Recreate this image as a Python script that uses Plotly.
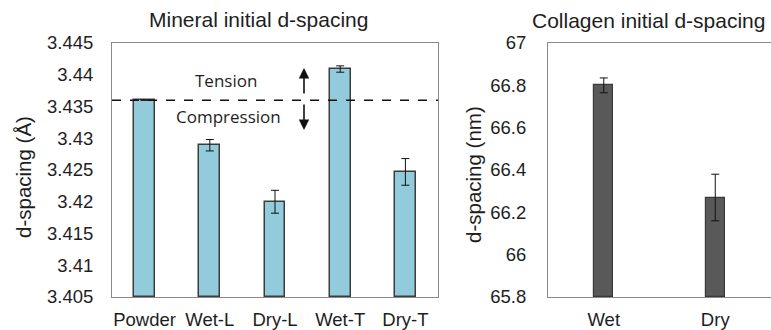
import plotly.graph_objects as go

# Mineral (apatite) d-spacing, Å
mineral_samples = ["Powder", "Wet-L", "Dry-L", "Wet-T", "Dry-T"]
mineral_dspacing = [3.4360, 3.4289, 3.4200, 3.4409, 3.4247]
mineral_err = [0.0000, 0.0009, 0.0018, 0.0005, 0.0021]
mineral_ticks = [3.405, 3.41, 3.415, 3.42, 3.425, 3.43, 3.435, 3.44, 3.445]
powder_reference = 3.436

# Collagen D-period, nm
collagen_samples = ["Wet", "Dry"]
collagen_dspacing = [66.80, 66.27]
collagen_err = [0.035, 0.11]
collagen_ticks = [65.8, 66.0, 66.2, 66.4, 66.6, 66.8, 67.0]

W, H = 771, 330
FONT = "Liberation Sans, Arial, sans-serif"
TEXT = "#1e1e1e"
FRAME = "#8a8a8a"

fig = go.Figure()

fig.add_trace(go.Bar(
    x=mineral_samples, y=[v - mineral_ticks[0] for v in mineral_dspacing],
    base=mineral_ticks[0], width=0.32,
    marker=dict(color="#92CBDC", line=dict(color="#3c3c3c", width=1.5)),
    error_y=dict(type="data", array=mineral_err, color="#111", thickness=1, width=4),
    xaxis="x", yaxis="y", showlegend=False,
))

fig.add_trace(go.Bar(
    x=collagen_samples, y=[v - collagen_ticks[0] for v in collagen_dspacing],
    base=collagen_ticks[0], width=0.17,
    marker=dict(color="#595959", line=dict(color="#3a3a3a", width=1.2)),
    error_y=dict(type="data", array=collagen_err, color="#111", thickness=1, width=4),
    xaxis="x2", yaxis="y2", showlegend=False,
))

y_dom = [33 / H, 287 / H]

axis_common = dict(
    showline=True, mirror=True, linecolor=FRAME, linewidth=1,
    showgrid=False, zeroline=False, automargin=False,
    tickfont=dict(family=FONT, size=18.5, color=TEXT),
)

fig.update_layout(
    width=W, height=H,
    margin=dict(l=0, r=0, t=0, b=0),
    paper_bgcolor="white", plot_bgcolor="white",
    bargap=0,
    xaxis=dict(domain=[112 / W, 438 / W], anchor="y",
               ticks="outside", ticklen=6, tickcolor="rgba(0,0,0,0)",
               range=[-0.5, 4.5], **axis_common),
    yaxis=dict(domain=y_dom, anchor="x", range=[3.405, 3.445],
               tickvals=mineral_ticks,
               ticktext=[f"{t:g}" for t in mineral_ticks],
               ticks="outside", ticklen=14, tickcolor="rgba(0,0,0,0)",
               **axis_common),
    xaxis2=dict(domain=[548 / W, 1.0], anchor="y2",
                ticks="outside", ticklen=6, tickcolor="rgba(0,0,0,0)",
                range=[-0.5, 1.5], **axis_common),
    yaxis2=dict(domain=y_dom, anchor="x2", range=[65.8, 67.0],
                tickvals=collagen_ticks,
                ticktext=[f"{t:g}" for t in collagen_ticks],
                ticks="outside", ticklen=17, tickcolor="rgba(0,0,0,0)",
                **axis_common),
)

# dashed reference line at the powder d-spacing
fig.add_shape(type="line", xref="x domain", yref="y",
              x0=0, x1=1, y0=powder_reference, y1=powder_reference,
              line=dict(color="#111", width=1.5, dash="dash"))


def label(text, x, y, size=19, family=FONT, angle=0):
    fig.add_annotation(text=text, xref="paper", yref="paper",
                       x=x / W, y=1 - y / H, xanchor="center", yanchor="middle",
                       showarrow=False, textangle=angle,
                       font=dict(family=family, size=size, color=TEXT))


# panel titles
label("Mineral initial d-spacing", 258, 20, size=21)
label("Collagen initial d-spacing", 648, 21, size=21)

# y-axis titles
label("d-spacing (Å)", 23, 177, size=20.5, angle=-90)
label("d-spacing (nm)", 473, 175, size=20.5, angle=-90)

# tension / compression labels with arrows
label("Tension", 226, 80, size=17, family="Open Sans, sans-serif")
label("Compression", 228, 117, size=17, family="Open Sans, sans-serif")
fig.add_annotation(text="", xref="paper", yref="paper",
                   x=304 / W, y=1 - 68 / H, ax=0, ay=27, axref="pixel", ayref="pixel",
                   showarrow=True, arrowhead=2, arrowsize=1.3, arrowwidth=1.6,
                   arrowcolor="#111")
fig.add_annotation(text="", xref="paper", yref="paper",
                   x=304 / W, y=1 - 130 / H, ax=0, ay=-27, axref="pixel", ayref="pixel",
                   showarrow=True, arrowhead=2, arrowsize=1.3, arrowwidth=1.6,
                   arrowcolor="#111")

fig.write_html("out.html")
